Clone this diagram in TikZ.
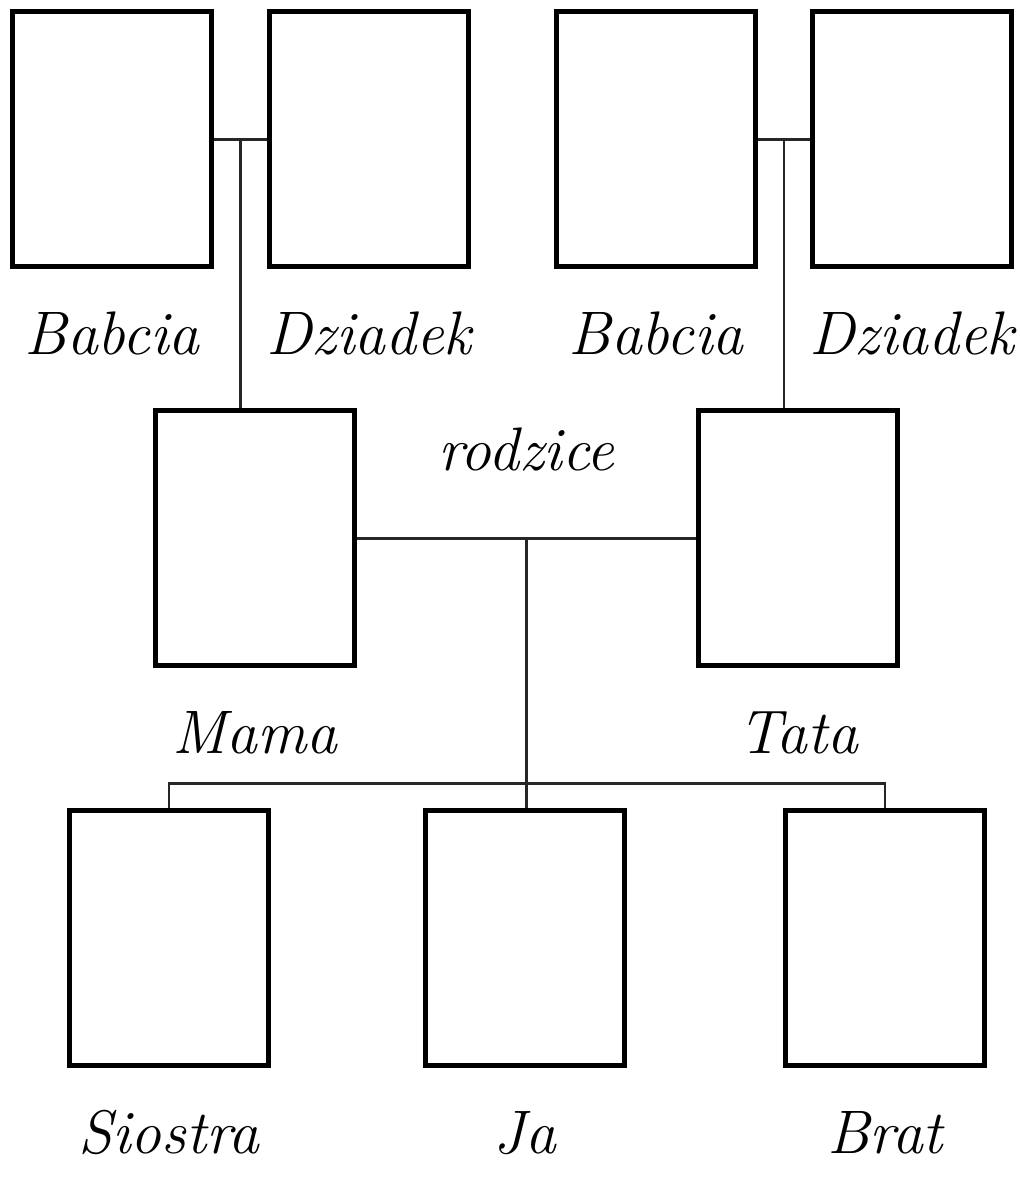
\documentclass[tikz,border=0pt]{standalone}
\usepackage{tikz}
\usetikzlibrary{positioning,calc}

% slanted hand for the names
\newcommand{\hand}{\itshape\fontsize{17.5}{21}\selectfont}

\tikzset{
  photo/.style={draw, line width=1.15pt, minimum width=1.99cm, minimum height=2.55cm, inner sep=0pt},
  tag/.style={font=\hand, inner sep=0pt, text height=0.5cm, text depth=0.1cm},
  link/.style={line width=0.85pt, draw=black!85}
}

\begin{document}
\begin{tikzpicture}
\useasboundingbox (0,0) rectangle (10.2,-11.82);

% Draw the grandparents
  \node[photo] (babcia1) at (1.12,-1.39) {};
  \node[photo] (dziadek1) at (3.69,-1.39) {};
  \node[photo] (babcia2) at (6.56,-1.39) {};
  \node[photo] (dziadek2) at (9.12,-1.39) {};
  \node[tag, below=0.35cm of babcia1] (lb1) {Babcia};
  \node[tag, below=0.35cm of dziadek1] (ld1) {Dziadek};
  \node[tag, below=0.35cm of babcia2] (lb2) {Babcia};
  \node[tag, below=0.35cm of dziadek2] (ld2) {Dziadek};

% Draw the parents
  \node[photo] (mama) at (2.55,-5.38) {};
  \node[photo] (tata) at (7.98,-5.38) {};
  \node[tag, below=0.35cm of mama] (lmama) {Mama};
  \node[tag, below=0.35cm of tata] (ltata) {Tata};

% Draw the children
  \node[photo] (siostra) at (1.69,-9.38) {};
  \node[photo] (ja) at (5.25,-9.38) {};
  \node[photo] (brat) at (8.85,-9.38) {};
  \node[tag, below=0.35cm of siostra] (lsiostra) {Siostra};
  \node[tag, below=0.35cm of ja] (lja) {Ja};
  \node[tag, below=0.35cm of brat] (lbrat) {Brat};

% Draw the lines
  \draw[link] (babcia1.east) -- (dziadek1.west);
  \coordinate (para1) at ($(babcia1.east)!0.5!(dziadek1.west)$);
  \draw[link] (para1) -- (para1 |- mama.north);

  \draw[link] (babcia2.east) -- (dziadek2.west);
  \coordinate (para2) at ($(babcia2.east)!0.5!(dziadek2.west)$);
  \draw[link] (para2) -- (para2 |- tata.north);

  \draw[link] (mama.east) -- (tata.west);
  \coordinate (para3) at ($(mama.east)!0.5!(tata.west)$);
  \draw[link] (para3) -- (para3 |- ja.north);
  \node[tag, above=0.57cm of para3] (rodzice) {rodzice};

%siblings bar
  \coordinate (bar) at ($(ja.north)+(0,0.25)$);
  \draw[link] (siostra.north) |- (bar) -| (brat.north);

\end{tikzpicture}
\end{document}
